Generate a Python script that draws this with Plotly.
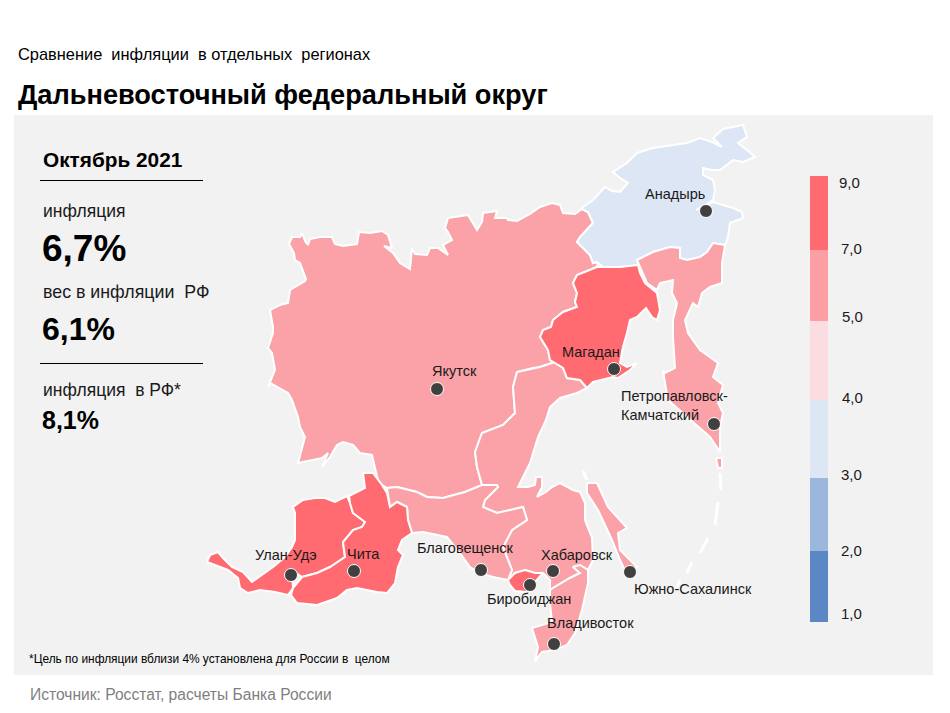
import plotly.graph_objects as go

yakutia_x = [289,292,300,302,305,308,310,320,332,335,343,357,359,370,382,388,392,384,393,400,410,412,415,427,430,438,448,443,452,448,445,448,468,472,477,482,483,497,495,507,508,517,530,540,552,560,563,575,582,588,593,580,577,583,590,593,598,597,585,577,573,577,575,577,563,553,551,543,540,548,550,555,540,533,517,513,515,503,482,475,477,482,465,443,427,417,397,387,382,378,375,372,360,353,343,337,330,322,328,322,298,305,300,298,292,288,270,268,275,272,268,273,273,270,280,288,290,305,306,300,295,294,289]
yakutia_y = [244,237,237,233,241,245,239,237,237,244,246,244,232,233,231,235,248,246,253,263,269,248,254,255,248,248,255,245,240,232,228,218,215,222,230,222,213,211,218,218,220,221,214,207,203,205,213,214,209,212,223,237,242,248,255,263,262,267,272,275,283,293,302,307,312,320,327,330,337,350,360,362,367,368,372,387,413,425,433,452,467,485,492,498,497,492,487,488,485,480,468,455,453,445,442,445,457,467,453,458,463,437,427,417,400,393,383,387,370,353,348,333,327,310,305,303,290,281,279,263,260,253,244]
chukotka_x = [583,593,605,612,620,628,620,613,627,637,653,673,687,700,712,722,713,723,743,747,738,747,755,743,733,720,712,703,703,713,715,713,696,713,733,742,743,730,728,725,713,707,700,687,680,680,670,653,637,640,620,603,597,593,590,583,577,580,593,588,582,583]
chukotka_y = [207,200,187,191,192,183,178,172,163,153,148,145,143,138,142,147,138,129,125,137,143,150,157,162,160,170,170,168,175,180,190,200,210,202,208,212,218,223,237,245,243,252,257,260,258,248,247,252,260,265,267,267,262,263,255,248,242,237,223,212,209,207]
magadan_x = [597,620,638,640,645,657,660,657,652,646,637,630,627,623,620,627,637,630,618,613,593,587,580,567,563,550,548,540,543,551,553,563,577,575,577,573,577,585,597]
magadan_y = [267,267,265,273,283,293,310,320,317,308,317,320,333,347,363,367,363,370,378,377,382,388,380,378,368,360,350,337,330,327,320,312,307,302,293,283,275,272,267]
kamchatka_x = [637,653,670,680,680,687,700,707,713,725,722,722,710,702,698,693,685,688,700,710,718,713,723,718,723,720,720,710,687,668,665,663,665,675,673,673,677,672,673,660,657,647,640,637]
kamchatka_y = [260,252,247,248,258,260,257,252,243,245,263,283,287,293,307,303,320,333,350,357,363,377,385,403,413,427,452,437,417,400,383,370,373,368,337,320,303,293,280,283,290,283,267,260]
khabarovsk_x = [517,533,540,555,563,567,580,587,577,560,550,546,538,530,518,528,535,536,542,542,537,546,552,560,573,580,585,585,592,593,588,580,573,580,570,553,550,550,545,543,535,525,515,508,512,503,512,527,523,497,483,485,498,497,482,477,475,482,503,515,513,517]
khabarovsk_y = [372,368,367,362,368,378,380,388,393,398,407,420,437,463,487,487,485,477,477,487,497,492,487,483,490,492,503,520,538,560,570,565,567,573,578,588,590,580,575,573,573,570,573,580,570,547,530,520,507,513,507,500,487,485,485,467,452,433,425,413,387,372]
amur_x = [387,397,417,427,443,465,482,497,498,485,483,497,523,527,512,503,512,508,493,480,470,460,447,423,412,408,407,397,390,387]
amur_y = [488,487,492,497,498,492,485,485,487,500,507,513,507,520,530,547,570,580,577,573,567,553,537,532,533,520,507,502,507,488]
jewish_x = [508,515,525,535,543,535,533,527,515,510,508]
jewish_y = [580,573,570,573,573,582,587,592,591,585,580]
primorye_x = [553,570,580,573,580,588,588,582,575,567,555,542,538,535,538,535,532,552,550,550,553]
primorye_y = [588,578,573,567,565,570,583,610,633,645,650,652,657,662,647,637,628,622,603,590,588]
sakhalin_x = [587,597,608,627,618,620,637,628,620,612,598,587,587]
sakhalin_y = [483,483,507,528,533,550,567,577,560,540,510,493,483]
kuril_x = [716,722,722,718,716]
kuril_y = [458,458,468,468,458]
buryatia_x = [207,210,218,223,232,243,252,262,273,285,292,295,295,293,303,315,325,335,347,350,353,365,362,353,343,345,330,317,302,292,293,288,275,260,248,240,238,228,207]
buryatia_y = [562,555,552,558,567,572,582,575,567,557,547,540,513,507,500,498,498,502,496,503,513,522,527,530,542,557,567,573,577,570,588,595,592,590,593,588,578,570,562]
zabaikal_x = [363,373,382,387,390,397,407,408,412,402,398,403,398,395,387,377,357,347,337,317,297,291,293,302,317,330,345,343,353,362,365,353,350,349,365,363]
zabaikal_y = [473,473,485,493,507,502,507,520,533,540,550,555,567,583,593,592,588,590,598,605,603,595,588,577,573,567,557,542,530,527,522,513,503,496,488,473]

red = "#FF6B70"
pink = "#FAA2A7"
light_blue = "#DCE6F4"
regions = [
    (yakutia_x, yakutia_y, pink), (chukotka_x, chukotka_y, light_blue),
    (kamchatka_x, kamchatka_y, pink), (khabarovsk_x, khabarovsk_y, pink),
    (amur_x, amur_y, pink), (primorye_x, primorye_y, pink),
    (sakhalin_x, sakhalin_y, pink), (kuril_x, kuril_y, pink),
    (magadan_x, magadan_y, red), (jewish_x, jewish_y, red),
    (buryatia_x, buryatia_y, red), (zabaikal_x, zabaikal_y, red),
]

# Kuril islands, only visible as white strokes
islands = [
    ([720, 721], [473, 490]), ([718, 715], [502, 525]), ([708, 700], [538, 553]),
    ([692, 687], [562, 573]), ([680, 677], [580, 587]), ([583, 587], [471, 480]),
]

cities = ["Анадырь", "Магадан", "Якутск", "Петропавловск", "Улан-Удэ", "Чита", "Благовещенск",
          "Хабаровск", "Биробиджан", "Южно-Сахалинск", "Владивосток"]
city_x = [706, 614, 437, 714, 291, 354, 481, 553, 530, 630, 554]
city_y = [211, 369, 389, 424, 575, 571, 570, 571, 585, 572, 644]

# colour scale, bottom to top
legend_colors = ["#5B87C5", "#9BB8DC", "#DCE6F4", "#FBDCE1", "#FB9FA5", "#FF6B70"]
legend_spans = [71, 73, 78, 79, 71, 74]
legend_ticks = ["1,0", "2,0", "3,0", "4,0", "5,0", "7,0", "9,0"]

# the page body has an 8px margin, so the figure sits inside it
PAGE_W, PAGE_H, BODY = 950, 713, 8

fig = go.Figure()

for xs, ys, color in regions:
    fig.add_trace(go.Scatter(x=xs, y=ys, mode="lines", fill="toself", fillcolor=color,
                             line=dict(color="white", width=2), hoverinfo="skip"))
for xs, ys in islands:
    fig.add_trace(go.Scatter(x=xs, y=ys, mode="lines", line=dict(color="white", width=3),
                             hoverinfo="skip"))

fig.add_trace(go.Scatter(x=city_x, y=city_y, mode="markers", text=cities, hoverinfo="text",
                         marker=dict(size=13, color="#404040", line=dict(color="white", width=1))))

# legend, stacked on its own axis
for span, color in zip(legend_spans, legend_colors):
    fig.add_trace(go.Bar(x=[0], y=[span], width=1, marker=dict(color=color, line_width=0),
                         xaxis="x2", yaxis="y2", hoverinfo="skip"))


def label(text, x, y, size=14, color="#1a1a1a", anchor="left", bold=False):
    if bold:
        text = "<b>" + text + "</b>"
    fig.add_annotation(x=x, y=y, text=text, showarrow=False, xref="x", yref="y", xanchor=anchor,
                       yanchor="middle", align="left", font=dict(family="Liberation Sans", size=size, color=color))


label("Сравнение  инфляции  в отдельных  регионах", 16, 54, 16.4, "#000000")
label("Дальневосточный федеральный округ", 16, 94, 27.2, "#000000", bold=True)
label("Октябрь 2021", 41, 159, 20.8, "#000000", bold=True)
label("инфляция", 41, 211, 17.5)
label("6,7%", 40, 248, 37, "#000000", bold=True)
label("вес в инфляции  РФ", 41, 292, 17.8)
label("6,1%", 40, 329, 32, "#000000", bold=True)
label("инфляция  в РФ*", 41, 390, 17.5)
label("8,1%", 40, 420, 25, "#000000", bold=True)
label("*Цель по инфляции вблизи 4% установлена для России в  целом", 27, 659, 11.9, "#000000")
label("Источник: Росстат, расчеты Банка России", 28, 694, 15.6, "#7f7f7f")

label("Анадырь", 675, 194, 14.5, anchor="center")
label("Магадан", 591, 352, 14.5, anchor="center")
label("Якутск", 454, 371, 14.5, anchor="center")
label("Петропавловск-<br>Камчатский", 619, 405, 14.5)
label("Улан-Удэ", 286, 555, 14.5, anchor="center")
label("Чита", 363, 554, 14.5, anchor="center")
label("Благовещенск", 465, 548, 14.5, anchor="center")
label("Хабаровск", 577, 555, 14.5, anchor="center")
label("Биробиджан", 529, 599, 14.5, anchor="center")
label("Южно-Сахалинск", 693, 589, 14.5, anchor="center")
label("Владивосток", 590, 623, 14.5, anchor="center")

for tick, x, y in zip(legend_ticks, [851, 851, 851, 852, 852, 851, 849], [613, 550, 474, 397, 316, 248, 182]):
    label(tick, x, y, 15, anchor="center")

fig_w = PAGE_W - 2 * BODY
fig_h = PAGE_H - 2 * BODY
fig.update_layout(
    width=fig_w, height=fig_h, margin=dict(l=0, r=0, t=0, b=0),
    paper_bgcolor="white", plot_bgcolor="rgba(0,0,0,0)",
    showlegend=False, barmode="stack", bargap=0,
    xaxis=dict(range=[BODY, PAGE_W - BODY], visible=False, domain=[0, 1], fixedrange=True),
    yaxis=dict(range=[PAGE_H - BODY, BODY], visible=False, domain=[0, 1], fixedrange=True),
    xaxis2=dict(range=[-0.5, 0.5], visible=False, anchor="y2", fixedrange=True,
                domain=[(810 - BODY) / fig_w, (828 - BODY) / fig_w]),
    yaxis2=dict(range=[0, sum(legend_spans)], visible=False, anchor="x2", fixedrange=True,
                domain=[1 - (622 - BODY) / fig_h, 1 - (176 - BODY) / fig_h]),
    shapes=[
        dict(type="rect", x0=14, x1=933, y0=115, y1=675, xref="x", yref="y", layer="below",
             fillcolor="#F2F2F2", line_width=0),
        dict(type="line", x0=40, x1=203, y0=180.5, y1=180.5, xref="x", yref="y", line=dict(color="#000000", width=1)),
        dict(type="line", x0=40, x1=203, y0=363.5, y1=363.5, xref="x", yref="y", line=dict(color="#000000", width=1)),
    ],
)

fig.write_html("out.html")
